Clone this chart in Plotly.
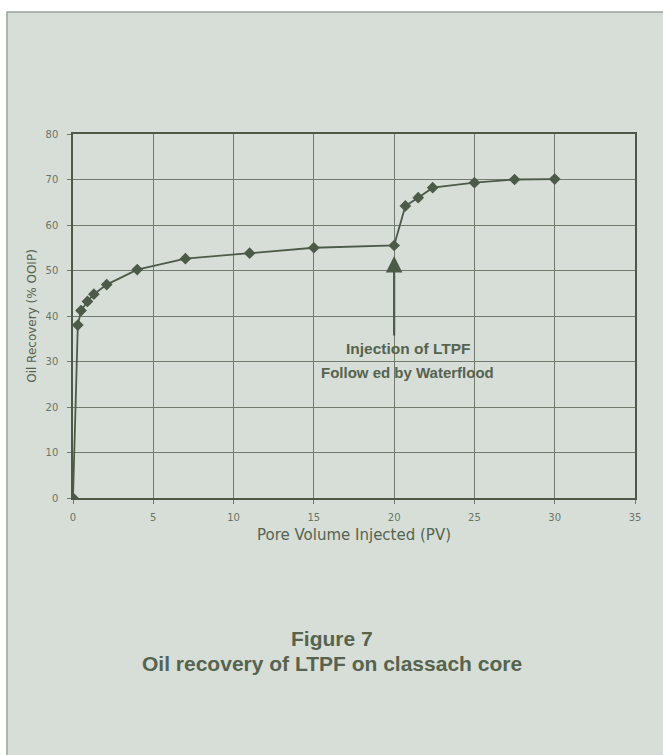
import plotly.graph_objects as go

pv_injected = [0, 0.3, 0.5, 0.9, 1.3, 2.1, 4, 7, 11, 15, 20, 20.7, 21.5, 22.4, 25, 27.5, 30]
oil_recovery = [0, 38, 41.2, 43.2, 44.8, 46.9, 50.2, 52.6, 53.8, 55.0, 55.5, 64.2, 66.0, 68.2, 69.3, 70.0, 70.1]

x_ticks = [0, 5, 10, 15, 20, 25, 30, 35]
y_ticks = [0, 10, 20, 30, 40, 50, 60, 70, 80]

PANEL = "#d7ded8"
INK = "#4c5a48"
GRID = "#6f7a6c"
TEXT = "#56634f"
TICKTEXT = "#6a7566"

W, H = 663, 755
L, R, T, B = 73, 28, 134, 257
pw, ph = W - L - R, H - T - B

def px_x(p):
    return (p - L) / pw

def px_y(p):
    return (H - B - p) / ph

fig = go.Figure()
fig.add_trace(go.Scatter(
    x=pv_injected, y=oil_recovery, mode="lines+markers",
    line=dict(color=INK, width=1.8),
    marker=dict(symbol="diamond", size=9, color=INK),
    showlegend=False, hoverinfo="skip",
))

fig.add_annotation(
    x=20, y=53.2, ax=20, ay=35.4, xref="x", yref="y", axref="x", ayref="y",
    showarrow=True, arrowhead=2, arrowsize=1.5, arrowwidth=2.2, arrowcolor=INK,
    text="",
)
fig.add_annotation(
    x=20.9, y=32.8, xref="x", yref="y", showarrow=False,
    text="<b>Injection of LTPF</b>",
    font=dict(family="Liberation Sans, Arial", size=15.5, color=TEXT),
)
fig.add_annotation(
    x=20.85, y=27.6, xref="x", yref="y", showarrow=False,
    text="<b>Follow ed by Waterflood</b>",
    font=dict(family="Liberation Sans, Arial", size=15, color=TEXT),
)

fig.add_annotation(
    x=px_x(332), y=px_y(652), xref="paper", yref="paper", showarrow=False,
    text="<b>Figure 7</b>",
    font=dict(family="Liberation Sans, Arial", size=21, color=TEXT),
)
fig.add_annotation(
    x=px_x(332), y=px_y(677), xref="paper", yref="paper", showarrow=False,
    text="<b>Oil recovery of LTPF on classach core</b>",
    font=dict(family="Liberation Sans, Arial", size=21, color=TEXT),
)

fig.add_shape(
    type="rect", xref="paper", yref="paper", layer="below",
    x0=px_x(7), x1=px_x(W + 5), y0=px_y(H + 5), y1=px_y(12),
    fillcolor=PANEL, line=dict(color="#9aa39a", width=1.5),
)

axis_common = dict(
    showgrid=True, gridcolor=GRID, gridwidth=1,
    showline=True, linecolor="#4d5849", linewidth=1.5, mirror=True,
    ticks="outside", ticklen=4, tickcolor=GRID,
    zeroline=False,
    tickfont=dict(family="DejaVu Sans", size=10, color=TICKTEXT),
)

fig.update_xaxes(
    range=[0, 35], tickvals=x_ticks, ticktext=[str(v) for v in x_ticks],
    ticklabelstandoff=5,
    title=dict(text="Pore Volume Injected (PV)", standoff=8,
               font=dict(family="DejaVu Sans", size=15, color=TEXT)),
    **axis_common,
)
fig.update_yaxes(
    range=[0, 80], tickvals=y_ticks, ticktext=[str(v) for v in y_ticks],
    ticklabelstandoff=7,
    title=dict(text="Oil Recovery (% OOIP)", standoff=6,
               font=dict(family="DejaVu Sans", size=12, color=TEXT)),
    **axis_common,
)

fig.update_layout(
    width=W, height=H,
    margin=dict(l=L, r=R, t=T, b=B, pad=0),
    paper_bgcolor="white",
    plot_bgcolor=PANEL,
    showlegend=False,
)

fig.write_html("out.html")
